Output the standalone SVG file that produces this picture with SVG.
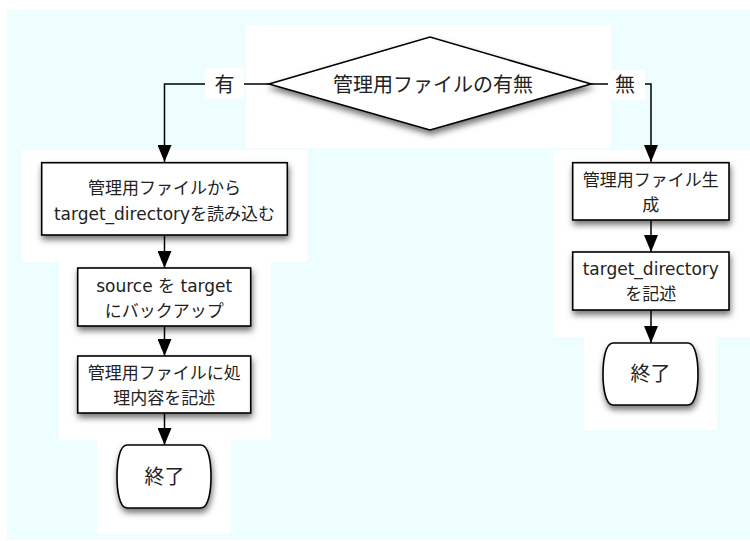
<svg xmlns="http://www.w3.org/2000/svg" width="750" height="541" viewBox="0 0 750 541">
<defs>
<style>
.bg{fill:#EEFEFF}
.tile{fill:#FFFFFF}
.shape{fill:#FFFFFF;stroke:#000;stroke-width:1.6;filter:url(#sh)}
.t{font-family:"DejaVu Sans","Noto Sans CJK JP",sans-serif;font-size:17px;fill:#222;text-anchor:middle}
.t20{font-size:20px}
.conn{fill:none;stroke:#000;stroke-width:1.5}
</style>
<filter id="sh" x="-20%" y="-20%" width="140%" height="170%">
<feDropShadow dx="1" dy="4" stdDeviation="3" flood-color="#000" flood-opacity="0.55"/>
</filter>
<marker id="arr" markerUnits="userSpaceOnUse" markerWidth="17" markerHeight="14" refX="17" refY="7" orient="auto">
<path d="M0,0 L17,7 L0,14 Z" fill="#000"/>
</marker>
</defs>
<g id="background">
<rect class="bg" x="7" y="10" width="743" height="530"/>
<rect class="tile" x="246" y="25" width="365" height="123"/>
<rect class="tile" x="22" y="150" width="285" height="112"/>
<rect class="tile" x="59" y="262" width="212" height="178"/>
<rect class="tile" x="97" y="440" width="134" height="94"/>
<rect class="tile" x="553" y="150" width="197" height="187"/>
<rect class="tile" x="584" y="337" width="133" height="93"/>
</g>
<g id="connectors">
<path class="conn" d="M269,84 H164.5 V162" marker-end="url(#arr)"/>
<path class="conn" d="M591,84 H651 V162" marker-end="url(#arr)"/>
<path class="conn" d="M164.5,235 V268" marker-end="url(#arr)"/>
<path class="conn" d="M164.5,326 V356" marker-end="url(#arr)"/>
<path class="conn" d="M164.5,413 V445" marker-end="url(#arr)"/>
<path class="conn" d="M651,220 V252" marker-end="url(#arr)"/>
<path class="conn" d="M651,310 V343" marker-end="url(#arr)"/>
<rect class="tile" x="205" y="68" width="39" height="31"/>
<text class="t t20" x="224.5" y="92">有</text>
<rect class="tile" x="608" y="70" width="37" height="30"/>
<text class="t t20" x="625" y="92">無</text>
</g>
<g id="decision">
<polygon class="shape" points="269,84 430,37 591,84 430,130"/>
<text class="t t20" x="433" y="92">管理用ファイルの有無</text>
</g>
<g id="read-target">
<rect class="shape" x="41.7" y="162.7" width="245.6" height="72.3"/>
<text class="t" x="164.5" y="194">管理用ファイルから</text>
<text class="t" x="164.5" y="220">target_directoryを読み込む</text>
</g>
<g id="backup">
<rect class="shape" x="77.7" y="268" width="173" height="58"/>
<text class="t" x="164.2" y="292">source を target</text>
<text class="t" x="164.2" y="317">にバックアップ</text>
</g>
<g id="write-log">
<rect class="shape" x="77.7" y="356" width="173" height="57"/>
<text class="t" x="164.2" y="379">管理用ファイルに処</text>
<text class="t" x="164.2" y="404">理内容を記述</text>
</g>
<g id="end-left">
<path class="shape" d="M127,445 H201 C209,445 211,464 211,476.5 C211,489 209,508 201,508 H127 C119,508 117,489 117,476.5 C117,464 119,445 127,445 Z"/>
<text class="t t20" x="164.5" y="484">終了</text>
</g>
<g id="create-file">
<rect class="shape" x="572.7" y="162.7" width="156.3" height="57.3"/>
<text class="t" x="650.8" y="186">管理用ファイル生</text>
<text class="t" x="650.8" y="211">成</text>
</g>
<g id="write-target">
<rect class="shape" x="572.7" y="252" width="156.3" height="58"/>
<text class="t" x="650.8" y="275">target_directory</text>
<text class="t" x="650.8" y="300">を記述</text>
</g>
<g id="end-right">
<path class="shape" d="M613,343 H688 C696,343 698,362 698,374 C698,386 696,405 688,405 H613 C605,405 603,386 603,374 C603,362 605,343 613,343 Z"/>
<text class="t t20" x="650.5" y="381">終了</text>
</g>
</svg>
